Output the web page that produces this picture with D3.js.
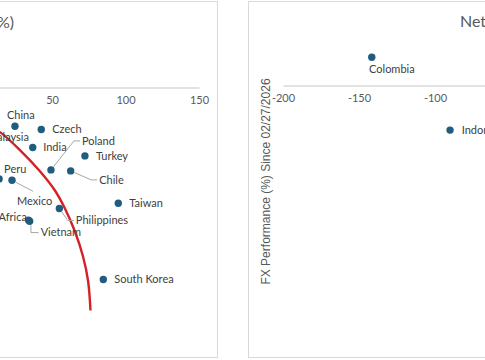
<!DOCTYPE html>
<html><head><meta charset="utf-8">
<script src="https://cdn.jsdelivr.net/npm/d3@7"></script>
<style>
html,body{margin:0;padding:0;background:#fff;}
svg{display:block;}
text{font-family:"Lato","Open Sans",sans-serif;}
</style></head>
<body>
<script>
// ---- Left panel data (net oil imports vs FX performance) ----
const leftCountries = ["China","Czech","Malaysia","India","Turkey","Poland","Chile","Peru","Mexico","Taiwan","Philippines","South Africa","Vietnam","South Korea"];
const leftX = [24.8, 42.7, -1.7, 36.9, 72.4, 49.3, 62.7, 14.0, 22.8, 95.1, 55.0, 34.0, 34.8, 84.9];
const leftY = [-1.94, -2.1, -2.5, -3.0, -3.42, -4.12, -4.17, -4.57, -4.64, -5.79, -6.05, -6.63, -6.69, -9.6];
const leftTicks = [-50, 0, 50, 100, 150];

// red frontier curve (data coords)
const curveX = [1.0, 14.6, 28.2, 41.8, 52.0, 58.8, 65.6, 71.1, 74.5, 76.2];
const curveY = [-1.65, -2.23, -3.13, -4.19, -5.15, -6.05, -7.2, -8.45, -9.65, -11.15];

// ---- Right panel data ----
const rightCountries = ["Colombia","Indonesia"];
const rightX = [-141.6, -90.1];
const rightY = [1.41, -2.23];
const rightTicks = [-200, -150, -100, -50, 0];

const leftTitle = "Net Oil Imports vs FX Performance (%)";
const rightTitle = "Net Oil Exporters vs FX Performance (%)";
const rightYTitle = "FX Performance (%) Since 02/27/2026";

// ---- layout (label placement, not data) ----
const labelPos = {
  "China":        {dx:-8,  dy:-11, leader:null},
  "Czech":        {dx:11,  dy:0,   leader:null},
  "Malaysia":     {dx:11,  dy:0,   leader:null},
  "India":        {dx:10.5,dy:0,   leader:null},
  "Turkey":       {dx:11,  dy:0,   leader:null},
  "Poland":       {dx:31,  dy:-29, leader:"elbow"},
  "Chile":        {dx:28.5,dy:9,   leader:"elbow"},
  "Peru":         {dx:5,   dy:-9.5,leader:null},
  "Mexico":       {dx:5,   dy:21,  leader:"top"},
  "Taiwan":       {dx:11,  dy:0,   leader:null},
  "Philippines":  {dx:16.5,dy:12,  leader:"elbow"},
  "South Africa": {dx:-1.5,dy:-3,  leader:null, anchor:"end"},
  "Vietnam":      {dx:11,  dy:11.3,leader:"down"},
  "South Korea":  {dx:11,  dy:0,   leader:null},
  "Colombia":     {dx:-2.7,dy:11.7,leader:null},
  "Indonesia":    {dx:11.7,dy:0,   leader:null}
};

const W = 485, H = 360;
const svg = d3.select("body").append("svg").attr("width", W).attr("height", H);

const borderCol = "#d9d9d9", textCol = "#595959", labelCol = "#404040";
const dotCol = "#1f5c7e", redCol = "#d42027", leaderCol = "#a6a6a6";

// panel frames
svg.append("rect").attr("x", -300).attr("y", 1.5).attr("width", 517.5).attr("height", 356)
  .attr("fill", "#fff").attr("stroke", borderCol);
svg.append("rect").attr("x", 248.5).attr("y", 1.5).attr("width", 600).attr("height", 356)
  .attr("fill", "#fff").attr("stroke", borderCol);

const fmt = d => String(d);

// ---------- LEFT PANEL ----------
const xL = d3.scaleLinear().domain([-50, 150]).range([-95, 199]);
const yL = d3.scaleLinear().domain([0, -10]).range([87.5, 287.5]);

const gL = svg.append("g");
gL.append("text").attr("x", 14).attr("y", 28).attr("text-anchor", "end")
  .attr("fill", textCol).attr("font-size", 16).text(leftTitle);

const axL = gL.append("g").attr("transform", `translate(0,${yL(0)})`)
  .call(d3.axisBottom(xL).tickValues(leftTicks).tickFormat(fmt).tickSize(0).tickPadding(8.5));
axL.select(".domain").attr("stroke", borderCol).attr("stroke-width", 1.3);
axL.selectAll("text").attr("fill", textCol).attr("font-size", 11)
  .style("font-family", '"Lato","Open Sans",sans-serif');

// red curve
const curvePts = curveX.map((x, i) => [x, curveY[i]]);
gL.append("path").datum(curvePts)
  .attr("d", d3.line().x(d => xL(d[0])).y(d => yL(d[1])).curve(d3.curveCatmullRom))
  .attr("fill", "none").attr("stroke", redCol).attr("stroke-width", 2.4);

function drawPoints(g, names, xs, ys, xs_, ys_) {
  const pts = names.map((n, i) => ({name: n, x: xs_(xs[i]), y: ys_(ys[i])}));
  // leaders
  pts.forEach(p => {
    const lp = labelPos[p.name];
    if (!lp || !lp.leader) return;
    const lx = p.x + lp.dx, ly = p.y + lp.dy;
    let path;
    if (lp.leader === "elbow") {
      const ex = lx - 8;
      const ang = Math.atan2(ly - p.y, ex - p.x);
      path = [[p.x + 4 * Math.cos(ang), p.y + 4 * Math.sin(ang)], [ex, ly], [lx - 2, ly]];
    } else if (lp.leader === "top") {
      const tx = lx + 16, ty = ly - 10;
      const ang = Math.atan2(ty - p.y, tx - p.x);
      path = [[p.x + 4 * Math.cos(ang), p.y + 4 * Math.sin(ang)], [tx, ty]];
    } else if (lp.leader === "down") {
      path = [[p.x + 1.3, p.y + 4], [p.x + 1.3, ly], [lx - 2, ly]];
    }
    g.append("path").attr("d", d3.line()(path)).attr("fill", "none")
      .attr("stroke", leaderCol).attr("stroke-width", 1);
  });
  g.selectAll(null).data(pts).enter().append("circle")
    .attr("cx", d => d.x).attr("cy", d => d.y).attr("r", 3.7).attr("fill", dotCol);
  g.selectAll(null).data(pts).enter().append("text")
    .attr("x", d => d.x + labelPos[d.name].dx)
    .attr("y", d => d.y + labelPos[d.name].dy)
    .attr("dy", "0.35em")
    .attr("text-anchor", d => labelPos[d.name].anchor || "start")
    .attr("fill", labelCol).attr("font-size", 11).text(d => d.name);
}
drawPoints(gL, leftCountries, leftX, leftY, xL, yL);

// ---------- RIGHT PANEL ----------
const xR = d3.scaleLinear().domain([-200, 0]).range([283, 587]);
const yR = d3.scaleLinear().domain([0, -10]).range([85.5, 285.5]);
const gR = svg.append("g");

gR.append("text").attr("x", 460).attr("y", 27).attr("fill", textCol)
  .attr("font-size", 16).text(rightTitle);

const axR = gR.append("g").attr("transform", `translate(0,${yR(0)})`)
  .call(d3.axisBottom(xR).tickValues(rightTicks).tickFormat(fmt).tickSize(0).tickPadding(8.5));
axR.select(".domain").attr("stroke", borderCol).attr("stroke-width", 1.3);
axR.selectAll("text").attr("fill", textCol).attr("font-size", 11)
  .style("font-family", '"Lato","Open Sans",sans-serif');

gR.append("text").attr("transform", "translate(269.5,181.5) rotate(-90)")
  .attr("text-anchor", "middle").attr("fill", textCol).attr("font-size", 12)
  .style("font-family", '"Liberation Sans",Arial,sans-serif').text(rightYTitle);

drawPoints(gR, rightCountries, rightX, rightY, xR, yR);
</script>
</body></html>
